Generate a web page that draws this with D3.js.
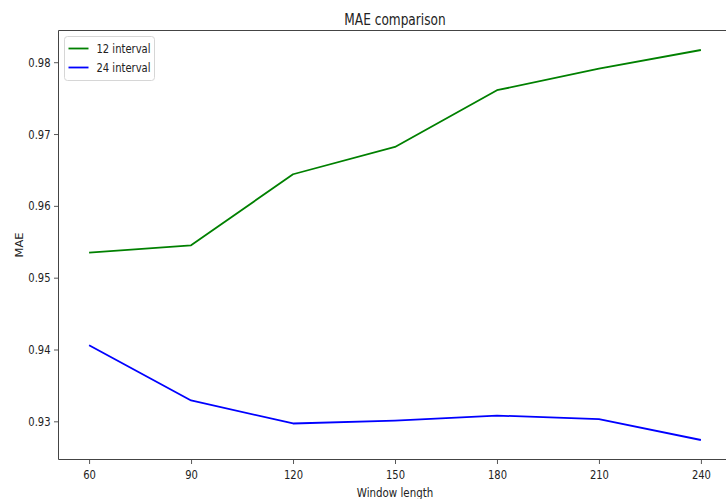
<!DOCTYPE html>
<html>
<head>
<meta charset="utf-8">
<script src="https://cdn.jsdelivr.net/npm/d3@7"></script>
<style>
  html, body { margin: 0; padding: 0; background: #fff; }
  svg { display: block; }
  text { font-family: "DejaVu Sans", sans-serif; fill: #222; }
</style>
</head>
<body>
<svg id="chart" width="726" height="499"></svg>
<script>
// Window lengths on the x axis
const windowLengths = [60, 90, 120, 150, 180, 210, 240];
// MAE for each forecasting interval
const mae12 = [0.9535, 0.9545, 0.9644, 0.9682, 0.9761, 0.9791, 0.9817];
const mae24 = [0.9406, 0.9329, 0.9297, 0.9301, 0.9308, 0.9303, 0.9274];
const seriesNames = ["12 interval", "24 interval"];
const seriesColors = ["#008000", "#0000ff"];
const yTicks = [0.93, 0.94, 0.95, 0.96, 0.97, 0.98];

const W = 726, H = 499;
const plot = { left: 58.5, right: 731.5, top: 30.5, bottom: 459.5 };
const SQ = 0.8; // horizontal text compression

const svg = d3.select("#chart");

// 5% margins around the data, like matplotlib's autoscale
function padded(ext) {
  const p = (ext[1] - ext[0]) * 0.05;
  return [ext[0] - p, ext[1] + p];
}

const x = d3.scaleLinear()
  .domain(padded(d3.extent(windowLengths)))
  .range([plot.left, plot.right]);
const y = d3.scaleLinear()
  .domain(padded(d3.extent(mae12.concat(mae24))))
  .range([plot.bottom, plot.top]);

// Axes
const xAxis = svg.append("g")
  .attr("transform", `translate(0,${plot.bottom})`)
  .call(d3.axisBottom(x).tickValues(windowLengths).tickSize(4.5).tickPadding(6.5).tickFormat(d3.format("d")));
const yAxis = svg.append("g")
  .attr("transform", `translate(${plot.left},0)`)
  .call(d3.axisLeft(y).tickValues(yTicks).tickSize(4.5).tickPadding(3.5).tickFormat(d3.format(".2f")));

[xAxis, yAxis].forEach(g => {
  g.select(".domain").remove();
  g.selectAll(".tick line").attr("stroke", "#444").attr("stroke-width", 0.9);
  g.selectAll(".tick text")
    .attr("font-size", 12.5)
    .attr("font-family", "DejaVu Sans, sans-serif")
    .attr("fill", "#222");
});
// compress tick labels horizontally around their anchor points
xAxis.selectAll(".tick text").attr("transform", `scale(${SQ},1)`);
yAxis.selectAll(".tick text").each(function () {
  const t = d3.select(this);
  const xx = +t.attr("x");
  t.attr("x", xx / SQ).attr("transform", `scale(${SQ},1)`);
});

// Spines
const spine = svg.append("g").attr("stroke", "#444").attr("stroke-width", 1).attr("fill", "none");
spine.append("line").attr("x1", plot.left).attr("x2", plot.left).attr("y1", plot.top).attr("y2", plot.bottom);
spine.append("line").attr("x1", plot.left).attr("x2", plot.right).attr("y1", plot.top).attr("y2", plot.top);
spine.append("line").attr("x1", plot.left).attr("x2", plot.right).attr("y1", plot.bottom).attr("y2", plot.bottom);
spine.append("line").attr("x1", plot.right).attr("x2", plot.right).attr("y1", plot.top).attr("y2", plot.bottom);

// Lines
const line = d3.line().x(d => x(d[0])).y(d => y(d[1]));
[mae12, mae24].forEach((vals, i) => {
  svg.append("path")
    .datum(windowLengths.map((w, j) => [w, vals[j]]))
    .attr("fill", "none")
    .attr("stroke", seriesColors[i])
    .attr("stroke-width", 1.8)
    .attr("stroke-linejoin", "round")
    .attr("d", line);
});

// Compressed text helper
function label(px, py, str, size, sq) {
  return svg.append("text")
    .attr("transform", `translate(${px},${py}) scale(${sq},1)`)
    .attr("text-anchor", "middle")
    .attr("font-size", size)
    .text(str);
}

const cx = (plot.left + plot.right) / 2;
label(cx, 25, "MAE comparison", 16, 0.76);
label(cx, 497, "Window length", 12.5, 0.82);
svg.append("text")
  .attr("transform", `translate(23,${(plot.top + plot.bottom) / 2}) rotate(-90) scale(1,0.85)`)
  .attr("text-anchor", "middle")
  .attr("font-size", 11.5)
  .text("MAE");

// Legend
const lg = svg.append("g").attr("transform", `translate(${plot.left + 6},${plot.top + 6})`);
lg.append("rect")
  .attr("width", 90).attr("height", 44).attr("rx", 3)
  .attr("fill", "#fff").attr("fill-opacity", 0.8)
  .attr("stroke", "#d6d6d6").attr("stroke-width", 1);
seriesNames.forEach((name, i) => {
  const ly = 12 + i * 19;
  lg.append("line")
    .attr("x1", 4).attr("x2", 24).attr("y1", ly).attr("y2", ly)
    .attr("stroke", seriesColors[i]).attr("stroke-width", 1.8);
  lg.append("text")
    .attr("transform", `translate(32,${ly + 4.5}) scale(${SQ},1)`)
    .attr("font-size", 12.5)
    .text(name);
});
</script>
</body>
</html>
